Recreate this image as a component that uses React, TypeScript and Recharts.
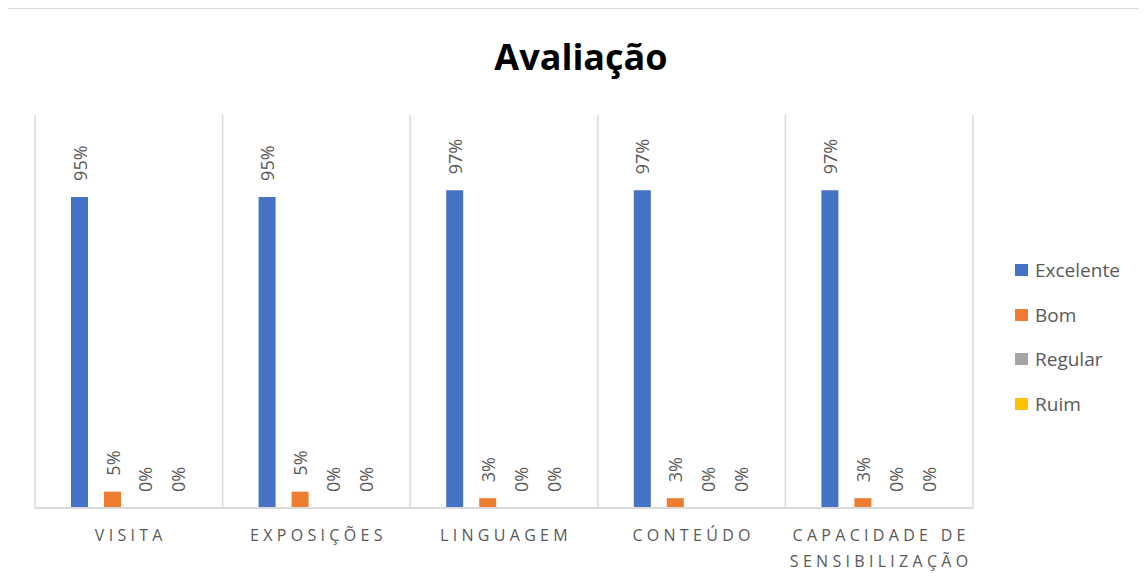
import { BarChart, Bar, XAxis, YAxis, CartesianGrid, Legend, LabelList } from "recharts";

const categories = ["VISITA", "EXPOSIÇÕES", "LINGUAGEM", "CONTEÚDO", "CAPACIDADE DE SENSIBILIZAÇÃO"];
const excelente = [0.95, 0.95, 0.97, 0.97, 0.97];
const bom = [0.05, 0.05, 0.03, 0.03, 0.03];
const regular = [0, 0, 0, 0, 0];
const ruim = [0, 0, 0, 0, 0];
const seriesNames = ["Excelente", "Bom", "Regular", "Ruim"];
const seriesColors = ["#4472C4", "#ED7D31", "#A5A5A5", "#FFC000"];

const data = categories.map((c, i) => ({
  categoria: c,
  Excelente: excelente[i],
  Bom: bom[i],
  Regular: regular[i],
  Ruim: ruim[i],
}));

const FONT = "'Open Sans', sans-serif";
const GRID = "#d9d9d9";

function CategoryTick({ x, y, payload }: any) {
  const lines: string[] = [];
  String(payload.value)
    .split(" ")
    .forEach((w) => {
      const last = lines[lines.length - 1];
      if (last && (last + " " + w).length <= 14) lines[lines.length - 1] = last + " " + w;
      else lines.push(w);
    });
  return (
    <g>
      {lines.map((l, i) => (
        <text
          key={i}
          x={x + 2}
          y={y + 33 + i * 26}
          textAnchor="middle"
          fill="#595959"
          fontSize={16}
          letterSpacing={4.3}
          fontFamily={FONT}
        >
          {l}
        </text>
      ))}
    </g>
  );
}

function ValueLabel(props: any) {
  const vb = props.viewBox ?? props;
  const cx = vb.x + vb.width / 2;
  const top = Math.min(vb.y, vb.y + vb.height);
  const ly = top - 16;
  return (
    <text
      x={cx}
      y={ly}
      transform={`rotate(-90 ${cx} ${ly})`}
      textAnchor="start"
      dominantBaseline="central"
      fill="#595959"
      fontSize={18}
      fontFamily={FONT}
    >
      {Math.round(props.value * 100)}%
    </text>
  );
}

function LegendBox() {
  return (
    <div style={{ position: "relative", width: 130, height: 170, fontFamily: FONT }}>
      {seriesNames.map((n, i) => (
        <div
          key={n}
          style={{ position: "absolute", left: 0, top: i * 44.7, height: 30, display: "flex", alignItems: "center" }}
        >
          <span style={{ display: "inline-block", width: 13, height: 12, background: seriesColors[i], marginRight: 7 }} />
          <span style={{ color: "#595959", fontSize: 19, whiteSpace: "nowrap" }}>{n}</span>
        </div>
      ))}
    </div>
  );
}

export default function App() {
  return (
    <div style={{ position: "relative", width: 1147, height: 586, margin: -8, overflow: "hidden", background: "#fff" }}>
      <div
        style={{
          position: "absolute",
          left: 6,
          top: 7,
          width: 1200,
          height: 620,
          border: `2px solid ${GRID}`,
          boxSizing: "border-box",
        }}
      />
      <svg style={{ position: "absolute", left: 0, top: 0 }} width={1147} height={100}>
        <text x={581} y={70} textAnchor="middle" fontSize={36} fontWeight="bold" fontFamily={FONT} fill="#000">
          Avaliação
        </text>
      </svg>
      <div style={{ position: "absolute", left: 0, top: 0 }}>
        <BarChart
          width={1147}
          height={586}
          data={data}
          margin={{ top: 115, right: 44, bottom: 18, left: 35 }}
          barSize={17}
          barGap={16}
        >
          <CartesianGrid
            horizontal={false}
            stroke={GRID}
            strokeWidth={1.5}
            verticalCoordinatesGenerator={(p: any) => {
              const o = p.offset;
              return categories.map((_, i) => o.left + (o.width * i) / categories.length).concat(o.left + o.width);
            }}
          />
          <XAxis
            dataKey="categoria"
            height={60}
            axisLine={{ stroke: GRID, strokeWidth: 2 }}
            tickLine={false}
            tickSize={0}
            tickMargin={0}
            interval={0}
            tick={<CategoryTick />}
          />
          <YAxis hide domain={[0, 1.2]} />
          {seriesNames.map((n, i) => (
            <Bar key={n} dataKey={n} fill={seriesColors[i]} minPointSize={0.01} isAnimationActive={false}>
              <LabelList dataKey={n} content={<ValueLabel />} />
            </Bar>
          ))}
          <Legend
            layout="horizontal"
            verticalAlign="middle"
            align="right"
            content={<LegendBox />}
            wrapperStyle={{ left: 1015, top: 255, width: 130 }}
          />
        </BarChart>
      </div>
    </div>
  );
}
